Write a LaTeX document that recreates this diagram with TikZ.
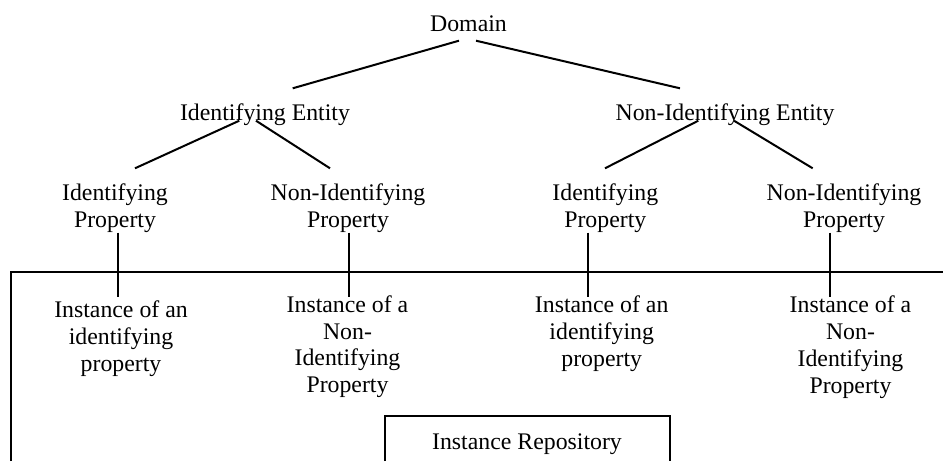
\documentclass[tikz,border=0pt]{standalone}
\usepackage{fontspec}
\setmainfont{Liberation Serif}
\usetikzlibrary{calc}
\newcommand{\mlines}[1]{\begin{tabular}[t]{@{}c@{}}#1\end{tabular}}
\begin{document}
\begin{tikzpicture}[x=1pt,y=-1pt,
  lbl/.style={inner sep=0pt, anchor=base, font=\fontsize{23.8}{27.6}\selectfont},
  ilbl/.style={lbl, font=\fontsize{23.8}{26.8}\selectfont},
  conn/.style={line width=2pt},
  frame/.style={line width=2pt}]
\useasboundingbox (0,0) rectangle (943,461);
% nodes
\node[lbl] (dom) at (468.5,31.7) {Domain};
\node[lbl] (ie)  at (265,120) {Identifying Entity};
\node[lbl] (nie) at (725,120) {Non-Identifying Entity};
\node[lbl] (ip1) at (115,200) {\mlines{Identifying\\Property}};
\node[lbl] (np1) at (348,200) {\mlines{Non-Identifying\\Property}};
\node[lbl] (ip2) at (605.3,200) {\mlines{Identifying\\Property}};
\node[lbl] (np2) at (844,200) {\mlines{Non-Identifying\\Property}};
\node[ilbl] (ii1) at (121,317.7) {\mlines{Instance of an\\identifying\\property}};
\node[ilbl] (ni1) at (347.5,312.2) {\mlines{Instance of a\\Non-\\Identifying\\Property}};
\node[ilbl] (ii2) at (601.7,312.7) {\mlines{Instance of an\\identifying\\property}};
\node[ilbl] (ni2) at (850.5,312.7) {\mlines{Instance of a\\Non-\\Identifying\\Property}};
\node[lbl] (repo) at (527,449.3) {Instance Repository};
% frames
\draw[frame] (11,461) -- (11,271.7) -- (943,271.7);
\draw[frame] (385,461) -- (385,415.7) -- (670,415.7) -- (670,461);
% connectors
\draw[conn] ($(dom.base)+(-9.5,9)$) -- ($(ie.base)+(27.7,-31.7)$);
\draw[conn] ($(dom.base)+(7.5,9)$) -- ($(nie.base)+(-45,-31.7)$);
\draw[conn] ($(ie.base)+(-25.7,0.7)$) -- ($(ip1.base)+(20,-31.7)$);
\draw[conn] ($(ie.base)+(-9,0.7)$) -- ($(np1.base)+(-18,-31.7)$);
\draw[conn] ($(nie.base)+(-26.7,0.7)$) -- ($(ip2.base)+(-0.3,-31.7)$);
\draw[conn] ($(nie.base)+(9,0.7)$) -- ($(np2.base)+(-31.3,-31.7)$);
\draw[conn] ($(ip1.base)+(2.5,32.7)$) -- ($(ii1.base)+(-3.5,-21)$);
\draw[conn] ($(np1.base)+(0.5,32.7)$) -- ($(ni1.base)+(1,-15.7)$);
\draw[conn] ($(ip2.base)+(-17.6,32.7)$) -- ($(ii2.base)+(-14,-16)$);
\draw[conn] ($(np2.base)+(-14,32.7)$) -- ($(ni2.base)+(-20.5,-16)$);
\end{tikzpicture}
\end{document}
